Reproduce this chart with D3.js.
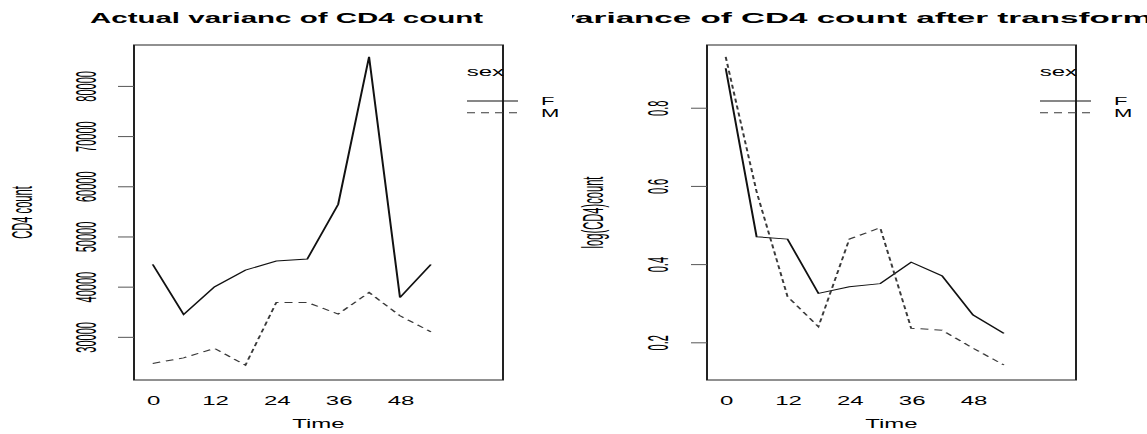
<!DOCTYPE html>
<html><head><meta charset="utf-8">
<script src="https://cdnjs.cloudflare.com/ajax/libs/d3/7.8.5/d3.min.js"></script>
<style>
body{margin:0;background:#fff}
svg{display:block}
text{font-family:"Liberation Sans",Arial,Helvetica,sans-serif;fill:#000}
</style>
</head><body>
<svg id="c" width="1147" height="434"></svg>
<script>
// ---- data ----
const times = [0, 6, 12, 18, 24, 30, 36, 42, 48, 54];
const timeTickLabels = [0, 12, 24, 36, 48];
const sexLevels = ["F", "M"];
const actualF = [44430, 34470, 39970, 43300, 45090, 45490, 56390, 85810, 37850, 44430];
const actualM = [24700, 25810, 27690, 24360, 36860, 36860, 34530, 38850, 34190, 31000];
const logF = [0.901, 0.470, 0.464, 0.325, 0.342, 0.350, 0.405, 0.370, 0.270, 0.223];
const logM = [0.930, 0.585, 0.317, 0.240, 0.464, 0.493, 0.236, 0.231, 0.185, 0.142];
const actualTicks = [30000, 40000, 50000, 60000, 70000, 80000];
const logTicks = [0.2, 0.4, 0.6, 0.8];
const titles = ["Actual varianc of CD4 count", "Actual variance of CD4 count after transformation"];
const yLabels = ["CD4 count", "log(CD4)count"];
const xLabel = "Time";
const legendTitle = "sex";

// ---- layout ----
const SX = 2;               // horizontal stretch of the original picture
const Y0 = 45, Y1 = 380;
const xLim = [-3.63, 68.0];
const panels = [
  {x0: 134, x1: 503, yLim: [21400, 88150], ticks: actualTicks, fmt: d3.format("d"),
   series: [actualF, actualM], ylab: yLabels[0], ylabX: 22, tickLabX: 86, title: titles[0]},
  {x0: 707, x1: 1076, yLim: [0.1036, 0.9604], ticks: logTicks, fmt: d3.format(".1f"),
   series: [logF, logM], ylab: yLabels[1], ylabX: 593, tickLabX: 658, title: titles[1]}
];
const lineStyles = [{dash: null, color: "#111"}, {dash: "4,3", color: "#3a3a3a"}];

const svg = d3.select("#c");
svg.append("defs").append("clipPath").attr("id", "rclip")
  .append("rect").attr("x", 572).attr("y", 0).attr("width", 575).attr("height", 434);

panels.forEach((p, pi) => {
  const x = d3.scaleLinear().domain(xLim).range([p.x0 / SX, p.x1 / SX]);
  const y = d3.scaleLinear().domain(p.yLim).range([Y1, Y0]);
  const g = svg.append("g").attr("transform", `scale(${SX},1)`);

  // box
  g.append("rect").attr("x", p.x0 / SX).attr("y", Y0)
    .attr("width", (p.x1 - p.x0) / SX).attr("height", Y1 - Y0)
    .attr("fill", "none").attr("stroke", "#222").attr("stroke-width", 1);

  // y axis
  const ya = g.append("g").attr("transform", `translate(${p.x0 / SX},0)`)
    .call(d3.axisLeft(y).tickValues(p.ticks).tickSize(8).tickPadding(0).tickFormat(p.fmt));
  ya.select(".domain").remove();
  ya.selectAll(".tick line").attr("stroke", "#555");
  ya.selectAll(".tick text")
    .attr("x", null).attr("dy", null)
    .attr("text-anchor", "middle").attr("dominant-baseline", "central")
    .attr("font-size", 12).attr("font-family", "Liberation Sans, Arial, sans-serif")
    .attr("fill", "#222")
    .attr("transform", `translate(${(p.tickLabX - p.x0) / SX},0) rotate(-90) scale(0.92,1.2)`);

  // x axis (labels only)
  const xa = g.append("g").attr("transform", `translate(0,${Y1})`)
    .call(d3.axisBottom(x).tickValues(timeTickLabels).tickSize(0).tickPadding(16));
  xa.select(".domain").remove();
  xa.selectAll(".tick text").attr("font-size", 12)
    .attr("font-family", "Liberation Sans, Arial, sans-serif").attr("fill", "#333");

  // lines
  const line = d3.line().x((d, i) => x(times[i])).y(d => y(d));
  p.series.forEach((s, si) => {
    g.append("path").datum(s).attr("d", line)
      .attr("fill", "none").attr("stroke", lineStyles[si].color)
      .attr("stroke-width", 1)
      .attr("stroke-dasharray", lineStyles[si].dash);
  });

  // legend
  const lg = g.append("g");
  lg.append("text").attr("x", (p.x1 + 1) / SX).attr("y", 76)
    .attr("text-anchor", "end").attr("font-size", 12).attr("fill", "#333").text(legendTitle);
  sexLevels.forEach((lv, li) => {
    const ly = 101 + li * 11.7;
    lg.append("line").attr("x1", (p.x1 - 36) / SX).attr("x2", (p.x1 + 15) / SX)
      .attr("y1", ly).attr("y2", ly)
      .attr("stroke", lineStyles[li].color).attr("stroke-width", 1)
      .attr("stroke-dasharray", lineStyles[li].dash);
    lg.append("text").attr("x", (p.x1 + 38) / SX).attr("y", ly + 4)
      .attr("font-size", 11).attr("fill", "#333").text(lv);
  });

  // x label
  g.append("text").attr("x", (p.x0 + p.x1) / 2 / SX).attr("y", 428)
    .attr("text-anchor", "middle").attr("font-size", 12).attr("fill", "#333").text(xLabel);

  // y label (rotated, screen coords)
  svg.append("text").attr("text-anchor", "middle").attr("dominant-baseline", "central")
    .attr("font-size", 12).attr("fill", "#333")
    .attr("transform", `translate(${p.ylabX},${(Y0 + Y1) / 2}) rotate(-90) scale(0.93,2.4)`)
    .text(p.ylab);
});

// titles
const t0 = svg.append("text").attr("font-weight", "bold").attr("font-size", 14.4).text(titles[0]);
const L0 = t0.node().getComputedTextLength();
const ts = 393 / L0;
t0.attr("transform", `translate(90,23.3) scale(${ts},1)`);

const t1 = svg.append("g").attr("clip-path", "url(#rclip)").append("text")
  .attr("font-weight", "bold").attr("font-size", 14.4).text(titles[1]);
const visible = "ariance of CD4 count after transform";
const idx = titles[1].indexOf(visible);
const off = t1.node().getSubStringLength(0, idx);
const visLen = t1.node().getSubStringLength(idx, visible.length);
const ts1 = (1152 - 575) / visLen;
t1.attr("transform", `translate(${575 - off * ts1},23.3) scale(${ts1},1)`);
</script>
</body></html>
